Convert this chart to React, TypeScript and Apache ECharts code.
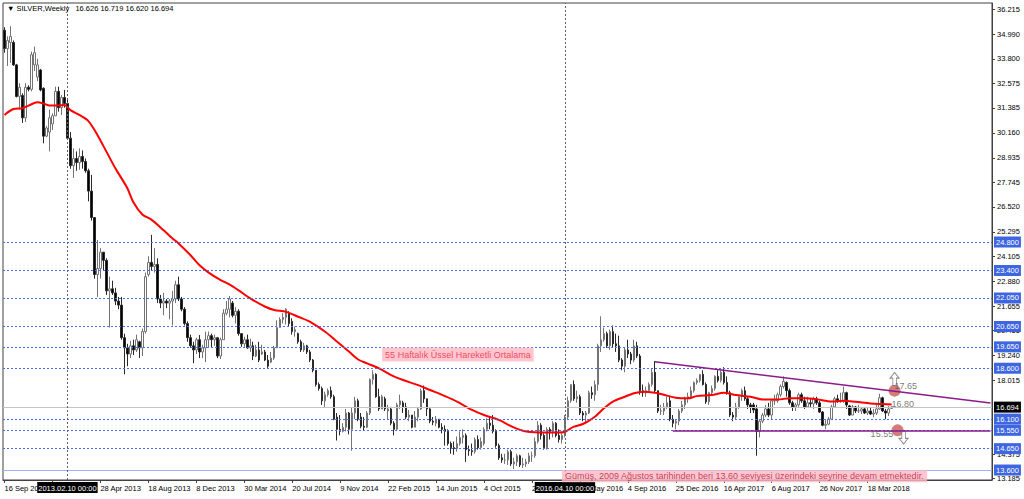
import React, { useEffect, useRef } from 'react';
import * as echarts from 'echarts';

// Weekly candles [open, close, low, high]
const c2012 = [
  [35.2, 34.3, 34.1, 35.35], [34.3, 34.7, 33.45, 34.9], [34.6, 34.9, 33.6, 35.4], [34.6, 33.5, 33.45, 34.7],
  [33.5, 31.95, 31.9, 33.55], [31.95, 32.4, 31.3, 32.6], [32.0, 30.9, 30.65, 32.1], [30.9, 32.4, 30.7, 32.6],
  [32.4, 32.3, 32.2, 32.5], [32.3, 34.0, 32.2, 34.15], [33.5, 34.1, 33.2, 34.4], [32.9, 33.5, 32.7, 33.8],
  [33.25, 32.27, 32.2, 33.3], [32.35, 30.0, 29.65, 32.4], [30.0, 30.4, 29.95, 30.5], [30.2, 30.9, 29.25, 31.3],
];
const c2013 = [
  [30.6, 31.0, 30.3, 31.12], [31.0, 32.2, 31.0, 32.43], [32.2, 31.4, 31.2, 32.43], [31.4, 31.9, 31.04, 32.02],
  [31.9, 31.6, 31.4, 32.27], [31.6, 29.9, 29.81, 31.78], [29.9, 28.55, 28.4, 30.2], [28.55, 28.9, 27.95, 29.4],
  [28.9, 28.7, 28.3, 29.25], [28.7, 29.0, 28.35, 29.4], [29.0, 28.75, 28.4, 29.3], [28.75, 28.3, 28.2, 28.9],
  [28.3, 27.3, 26.8, 28.4], [27.3, 26.0, 25.85, 28.1], [26.0, 23.2, 23.0, 26.0], [23.2, 23.5, 22.1, 24.9],
  [23.5, 24.3, 23.0, 24.5], [24.3, 23.9, 23.4, 24.3], [23.9, 22.4, 22.2, 24.0], [22.4, 22.5, 20.6, 23.1],
  [22.5, 22.3, 22.2, 22.9], [22.3, 21.9, 21.7, 22.55], [21.9, 21.7, 21.5, 22.1], [21.7, 20.1, 20.0, 22.1],
  [20.1, 19.6, 18.3, 20.3], [19.6, 19.3, 18.7, 19.8], [19.3, 19.7, 19.1, 19.95], [19.7, 19.5, 19.25, 20.0],
  [19.5, 20.0, 19.4, 20.25], [19.9, 19.6, 19.1, 19.95], [19.6, 20.4, 19.2, 20.55], [20.4, 23.1, 20.3, 23.3],
  [23.2, 23.8, 23.1, 24.1], [23.8, 23.6, 23.4, 25.15], [23.6, 23.7, 23.3, 24.5], [23.7, 22.0, 21.8, 24.0],
  [22.0, 21.8, 21.55, 22.2], [21.8, 21.9, 21.2, 22.3], [21.9, 21.8, 21.55, 22.0], [21.8, 21.9, 21.0, 22.0],
  [21.9, 22.0, 20.7, 22.4], [22.0, 22.7, 21.8, 22.9], [22.7, 22.0, 21.9, 23.1], [22.0, 21.5, 21.4, 22.1],
  [21.5, 20.8, 20.7, 21.6], [20.8, 20.1, 19.9, 20.9], [20.1, 19.7, 19.6, 20.25], [19.7, 19.5, 18.85, 19.9],
  [19.5, 20.0, 19.3, 20.1], [20.0, 19.4, 19.1, 20.23], [19.4, 19.6, 19.1, 19.75], [19.6, 20.0, 18.9, 20.4],
];
const c2014 = [
  [20.0, 20.2, 19.6, 20.4], [20.2, 20.0, 19.6, 20.3], [20.0, 20.1, 19.7, 20.25], [20.1, 19.2, 19.1, 20.05],
  [19.2, 20.0, 19.05, 20.1], [20.0, 21.3, 20.0, 21.5], [21.3, 21.5, 21.2, 21.9], [21.5, 22.0, 21.1, 22.15],
  [21.8, 21.2, 21.1, 21.9], [21.2, 21.4, 20.8, 21.6], [21.4, 20.3, 20.2, 21.5], [20.3, 19.8, 19.65, 20.3],
  [19.8, 20.0, 19.65, 20.15], [20.0, 19.6, 19.55, 20.25], [19.6, 19.7, 19.4, 20.05], [19.7, 19.2, 19.0, 19.9],
  [19.2, 19.5, 19.15, 19.75], [19.5, 19.0, 18.9, 19.9], [19.3, 19.4, 19.25, 19.75], [19.4, 19.0, 18.95, 19.5],
  [19.0, 18.7, 18.6, 19.25], [18.9, 19.1, 18.85, 19.4], [19.1, 19.6, 19.0, 19.7], [19.6, 20.6, 19.6, 20.95],
  [20.6, 21.0, 20.6, 21.1], [21.0, 21.1, 20.8, 21.3], [21.1, 21.5, 20.75, 21.55], [21.3, 20.8, 20.65, 21.4],
  [20.9, 20.4, 20.25, 21.05], [20.4, 20.5, 20.15, 20.65], [20.3, 19.9, 19.8, 20.35], [19.9, 19.5, 19.4, 20.0],
  [19.5, 19.7, 19.4, 19.85], [19.7, 19.4, 19.3, 19.75], [19.4, 19.0, 18.9, 19.5], [19.0, 18.5, 18.4, 19.05],
  [18.5, 17.8, 17.7, 18.5], [17.8, 17.6, 17.5, 17.9], [17.6, 17.0, 16.8, 17.7], [17.0, 17.3, 16.65, 17.45],
  [17.3, 17.5, 17.2, 17.6], [17.5, 17.2, 17.1, 17.7], [17.2, 16.1, 16.05, 17.3], [16.2, 15.6, 15.05, 16.4],
  [15.6, 15.5, 15.3, 16.3], [15.5, 15.7, 15.45, 15.9], [15.7, 16.4, 15.5, 16.6], [16.4, 15.6, 15.35, 16.45],
  [15.6, 16.4, 14.55, 16.7], [16.4, 17.0, 16.1, 17.2], [17.0, 16.1, 16.0, 17.1], [16.2, 15.75, 15.65, 16.4],
  [15.75, 15.7, 15.55, 16.2],
];
const c2015 = [
  [15.7, 16.4, 15.65, 16.5], [16.4, 18.05, 16.3, 18.1], [18.05, 18.3, 17.8, 18.5], [18.3, 17.2, 17.15, 18.35],
  [17.2, 16.6, 16.5, 17.6], [16.6, 17.2, 16.6, 17.3], [17.1, 16.6, 16.5, 17.2], [16.5, 16.6, 16.1, 16.8],
  [16.6, 15.9, 15.8, 16.7], [15.9, 15.6, 15.3, 16.0], [15.6, 16.8, 15.55, 16.9], [16.8, 17.0, 16.6, 17.3],
  [16.9, 16.7, 16.4, 17.0], [16.7, 16.2, 16.1, 16.9], [16.2, 16.3, 16.0, 16.55], [16.3, 15.7, 15.65, 16.3],
  [15.7, 16.2, 15.7, 16.5], [16.2, 16.6, 16.0, 16.7], [16.6, 17.5, 16.55, 17.6], [17.5, 17.1, 16.9, 17.75],
  [17.1, 16.6, 16.25, 17.1], [16.6, 16.0, 15.9, 16.7], [16.0, 15.95, 15.8, 16.2], [15.9, 16.1, 15.75, 16.25],
  [16.1, 15.7, 15.65, 16.1], [15.7, 15.6, 15.4, 15.9], [15.6, 15.5, 14.8, 15.8], [15.5, 14.9, 14.8, 15.6],
  [14.9, 14.7, 14.4, 15.0], [14.7, 14.65, 14.35, 15.0], [14.65, 14.9, 14.5, 15.25], [14.9, 15.2, 14.8, 15.5],
  [15.2, 15.3, 14.9, 15.6], [15.3, 14.6, 14.0, 15.4], [14.6, 14.55, 14.3, 14.8], [14.55, 14.5, 14.3, 14.9],
  [14.5, 15.1, 14.4, 15.2], [15.1, 14.7, 14.6, 15.3], [14.7, 15.0, 14.6, 15.2], [14.9, 15.6, 14.8, 15.7],
  [15.6, 15.9, 15.5, 16.15], [15.9, 15.8, 15.6, 16.2], [15.8, 15.5, 15.4, 16.3], [15.5, 14.8, 14.7, 15.6],
  [14.8, 14.2, 14.1, 14.9], [14.2, 14.1, 13.95, 14.4], [14.1, 14.1, 13.9, 14.4], [14.1, 14.5, 13.85, 14.6],
  [14.5, 13.9, 13.8, 14.6], [13.9, 14.0, 13.65, 14.2], [14.0, 14.3, 13.8, 14.4], [14.3, 13.85, 13.75, 14.35],
];
const c2016 = [
  [13.85, 13.9, 13.7, 14.2], [13.9, 14.0, 13.75, 14.15], [14.0, 14.3, 13.9, 14.45], [14.3, 14.3, 14.0, 14.5],
  [14.3, 15.0, 14.2, 15.2], [15.0, 15.8, 14.9, 16.0], [15.8, 15.3, 15.1, 15.9], [15.3, 14.7, 14.6, 15.4],
  [14.7, 15.6, 14.6, 15.7], [15.6, 15.5, 15.1, 15.7], [15.5, 15.9, 15.2, 16.0], [15.9, 15.3, 15.2, 15.95],
  [15.3, 15.1, 14.95, 15.6], [15.1, 15.3, 14.9, 15.4], [15.3, 16.2, 15.2, 16.3], [16.2, 17.0, 16.1, 17.2],
  [17.0, 17.8, 16.9, 17.8], [17.8, 17.1, 17.0, 18.0], [17.1, 17.2, 16.9, 17.5], [17.2, 16.4, 16.3, 17.3],
  [16.4, 16.3, 16.0, 16.5], [16.3, 16.4, 15.85, 16.5], [16.4, 17.4, 16.35, 17.5], [17.4, 17.3, 17.1, 17.7],
  [17.3, 17.8, 17.0, 18.0], [17.8, 19.7, 17.5, 19.8], [19.7, 20.0, 19.4, 21.15], [20.0, 20.3, 19.9, 20.6],
  [20.3, 19.7, 19.6, 20.4], [19.7, 20.4, 19.5, 20.5], [20.4, 19.8, 19.6, 20.7], [19.8, 19.7, 19.4, 20.3],
  [19.7, 19.0, 18.9, 20.2], [19.0, 18.7, 18.5, 19.1], [18.7, 19.5, 18.4, 19.6], [19.5, 19.3, 19.1, 20.0],
  [19.3, 19.0, 18.8, 19.4], [19.0, 19.7, 18.9, 20.0], [19.7, 19.2, 19.1, 19.9], [19.2, 17.5, 17.3, 19.3],
  [17.5, 17.4, 17.2, 17.8], [17.4, 17.5, 17.2, 17.7], [17.5, 17.8, 17.4, 17.9], [17.8, 18.4, 17.7, 18.6],
  [18.4, 17.5, 17.4, 18.95], [17.5, 16.5, 16.4, 17.5], [16.5, 16.5, 16.3, 16.8], [16.5, 16.7, 16.3, 16.9],
  [16.7, 16.9, 16.6, 17.2], [17.0, 16.1, 16.0, 17.2], [16.1, 15.9, 15.7, 16.3], [15.9, 16.0, 15.6, 16.1],
];
const c2017 = [
  [16.0, 16.5, 15.8, 16.6], [16.5, 16.8, 16.4, 17.0], [16.8, 17.1, 16.6, 17.2], [17.1, 17.2, 16.9, 17.4],
  [17.2, 17.5, 17.1, 17.7], [17.5, 17.9, 17.4, 17.95], [17.9, 18.0, 17.8, 18.1], [18.0, 18.3, 17.9, 18.3],
  [18.3, 17.8, 17.75, 18.5], [17.8, 16.95, 16.85, 17.9], [16.95, 17.4, 16.8, 17.45], [17.4, 17.6, 17.3, 17.75],
  [17.6, 18.2, 17.5, 18.25], [18.2, 18.0, 17.9, 18.5], [18.0, 18.4, 17.9, 18.5], [18.4, 17.9, 17.8, 18.65],
  [17.9, 17.4, 17.3, 18.2], [17.4, 16.3, 16.2, 17.5], [16.3, 16.2, 16.0, 16.45], [16.2, 16.7, 16.1, 16.9],
  [16.7, 17.2, 16.6, 17.3], [17.2, 17.5, 17.0, 17.6], [17.5, 17.1, 17.0, 17.7], [17.1, 16.8, 16.6, 17.2],
  [16.8, 16.7, 16.4, 16.9], [16.8, 16.55, 16.4, 16.9], [16.6, 15.5, 14.3, 16.8], [15.5, 16.0, 15.2, 16.1],
  [16.0, 16.3, 15.9, 16.4], [16.3, 16.6, 16.2, 16.8], [16.6, 16.3, 16.2, 16.9], [16.3, 17.0, 16.1, 17.1],
  [17.0, 17.0, 16.8, 17.3], [17.0, 17.3, 16.9, 17.4], [17.3, 17.7, 17.2, 17.8], [17.7, 17.95, 17.6, 18.2],
  [17.9, 17.5, 17.2, 17.95], [17.5, 16.9, 16.8, 17.6], [16.9, 16.7, 16.5, 17.0], [16.7, 16.8, 16.5, 16.9],
  [16.8, 17.3, 16.7, 17.4], [17.3, 17.0, 16.9, 17.4], [17.0, 16.7, 16.6, 17.2], [16.7, 16.9, 16.7, 17.2],
  [16.9, 16.85, 16.7, 17.1], [16.85, 17.1, 16.6, 17.2], [17.1, 16.9, 16.8, 17.2], [16.9, 16.45, 16.4, 17.0],
  [16.45, 15.8, 15.75, 16.5], [15.8, 15.85, 15.6, 16.1], [15.85, 16.1, 15.8, 16.2], [16.1, 16.7, 16.1, 16.8],
];
const c2018 = [
  [16.7, 17.1, 16.7, 17.2], [17.1, 17.0, 16.9, 17.3], [17.0, 17.0, 16.9, 17.4], [17.0, 17.4, 16.9, 17.7],
  [17.4, 16.8, 16.6, 17.45], [16.75, 16.3, 16.25, 16.8], [16.3, 16.7, 16.3, 16.8], [16.7, 16.5, 16.4, 16.75],
  [16.5, 16.5, 16.4, 16.8], [16.5, 16.6, 16.35, 16.7], [16.6, 16.4, 16.35, 16.7], [16.4, 16.5, 16.3, 16.7],
  [16.5, 16.35, 16.3, 16.7], [16.35, 16.4, 16.2, 16.6], [16.4, 16.6, 16.3, 16.8], [16.6, 17.15, 16.55, 17.35],
  [17.15, 16.5, 16.45, 17.2], [16.5, 16.4, 16.1, 16.6], [16.4, 16.6, 16.25, 16.75], [16.626, 16.694, 16.62, 16.719],
];

// 55-week EMA as [bar index, value]
const emaPoints = [
  [0, 31.04], [3, 31.33], [6, 31.37], [8, 31.5], [11, 31.66], [13, 31.6], [15, 31.5], [18, 31.5], [20, 31.53],
  [22, 31.28], [25, 31.04], [28, 30.74], [31, 30.06], [34, 29.24], [37, 28.42], [41, 27.44], [43, 26.75],
  [46, 26.15], [49, 25.9], [53, 25.39], [56, 24.98], [58, 24.74], [62, 24.16], [65, 23.67], [68, 23.31],
  [72, 22.94], [75, 22.72], [78, 22.44], [82, 22.03], [87, 21.62], [90, 21.46], [94, 21.37], [98, 21.13],
  [102, 20.88], [107, 20.39], [111, 19.9], [115, 19.41], [118, 19.03], [121, 18.84], [125, 18.59],
  [129, 18.26], [133, 18.02], [138, 17.77], [142, 17.53], [147, 17.23], [151, 16.96], [156, 16.55],
  [160, 16.3], [165, 16.06], [169, 15.76], [173, 15.53], [177, 15.45], [180, 15.44], [185, 15.44],
  [187, 15.48], [190, 15.73], [193, 15.86], [197, 16.22], [200, 16.63], [203, 16.96], [207, 17.2],
  [210, 17.37], [213, 17.45], [217, 17.4], [220, 17.3], [224, 17.15], [228, 17.12], [231, 17.23],
  [236, 17.28], [240, 17.4], [244, 17.28], [249, 17.2], [253, 17.07], [258, 17.07], [262, 17.12],
  [267, 17.12], [271, 17.07], [276, 16.96], [280, 17.0], [284, 16.95], [289, 16.87], [293, 16.84], [296, 16.82],
];

const dashedLevels = [24.8, 23.4, 22.05, 20.65, 19.65, 18.6, 16.1, 15.55, 14.65];
const floorLevel = 13.6;
const lastPrice = 16.694;
const headerValues = [16.626, 16.719, 16.62, 16.694];
const yTicks = [36.215, 34.99, 33.8, 32.575, 31.385, 30.16, 28.935, 27.745, 26.52, 25.295, 24.105, 22.88,
  21.655, 20.465, 19.24, 18.015, 14.375, 13.185];
const trendHigh = [[217, 18.92], [329, 16.89]];
const trendLow = [[223, 15.55], [329, 15.55]];
const crossIdx = [21, 187];
const circlePoints = [[297, 17.5], [298, 15.55]];
const arrowUp = [297, 18.07];
const arrowDown = [300, 15.2];

const notes = [
  { text: '55 Haftalık Üssel Hareketli Ortalama', at: [126, 19.27], kind: 'pinkTop' },
  { text: 'Gümüş, 2009 Ağustos tarihinden beri 13.60 seviyesi üzerindeki seyrine devam etmektedir.', at: [186, 13.29], kind: 'pinkBottom' },
  { text: '17.65', at: [297, 17.73], kind: 'gray' },
  { text: '16.80', at: [296, 16.84], kind: 'gray' },
  { text: '15.55', at: [289, 15.35], kind: 'gray' },
];

const FONT = "'Liberation Sans', Arial, sans-serif";
const MONTHS = ['Jan', 'Feb', 'Mar', 'Apr', 'May', 'Jun', 'Jul', 'Aug', 'Sep', 'Oct', 'Nov', 'Dec'];
const SLOTS = 330;
const EXTRA_BAR = 113; // the broker feed carries one extra weekly bar in Nov 2014

export default function App() {
  const ref = useRef<HTMLDivElement>(null);
  useEffect(() => {
    if (!ref.current) return;
    const chart = echarts.init(ref.current, undefined, { renderer: 'svg' });
    const candles = [...c2012, ...c2013, ...c2014, ...c2015, ...c2016, ...c2017, ...c2018];
    const start = Date.UTC(2012, 8, 16);
    const DAY = 86400000;
    const dates: string[] = [];
    const stamps: string[] = [];
    for (let k = 0; k < SLOTS; k++) {
      const w = k < EXTRA_BAR ? k : k - 1;
      const d = new Date(start + w * 7 * DAY + (k === EXTRA_BAR ? 6 * DAY : 0));
      dates.push(`${d.getUTCDate()} ${MONTHS[d.getUTCMonth()]} ${d.getUTCFullYear()}`);
      const mm = String(d.getUTCMonth() + 1).padStart(2, '0');
      const dd = String(d.getUTCDate()).padStart(2, '0');
      stamps.push(`${d.getUTCFullYear()}.${mm}.${dd} 00:00`);
    }
    const n = candles.length;
    const boxLabel = (bg: string, text: string) => ({
      show: true, position: 'end', distance: 2, formatter: text, backgroundColor: bg, color: '#fff',
      padding: [2, 2, 1, 2], fontSize: 7.5, fontFamily: FONT,
    });
    const purple = { color: '#8b1a8b', width: 1.5, type: 'solid' };
    const noteStyle: Record<string, any> = {
      pinkTop: { backgroundColor: '#ffb8c4', color: '#e8283c', padding: [3, 3, 2, 3], fontSize: 9 },
      pinkBottom: { backgroundColor: '#ffb8c4', color: '#b0203a', padding: [2, 3, 1, 3], fontSize: 9 },
      gray: { color: '#555555', fontSize: 9 },
    };
    const option: any = {
      animation: false,
      backgroundColor: '#ffffff',
      title: {
        text: `▼ SILVER,Weekly   ${headerValues.map((v) => v.toFixed(3)).join(' ')}`,
        left: 3, top: 0, padding: [4, 4],
        textStyle: { fontSize: 7.5, fontWeight: 'normal', color: '#000', fontFamily: FONT },
      },
      grid: { left: 3, right: 32, top: 3, bottom: 19, show: true, borderColor: '#404040', borderWidth: 1 },
      xAxis: {
        type: 'category', data: dates, boundaryGap: true,
        axisLine: { lineStyle: { color: '#404040' } },
        axisTick: { show: true, length: 3, alignWithLabel: true, interval: (i: number) => i % 16 === 0 && i < n, lineStyle: { color: '#404040' } },
        axisLabel: {
          interval: (i: number) => i % 16 === 0 && i < n, align: 'left', margin: 4, fontSize: 7.5,
          color: '#000', fontFamily: FONT,
        },
        splitLine: { show: false },
      },
      yAxis: {
        type: 'value', position: 'right', min: 13.11, max: 36.54,
        axisLine: { show: true, lineStyle: { color: '#404040' } },
        axisTick: { show: true, length: 3, customValues: yTicks, lineStyle: { color: '#404040' } },
        axisLabel: { customValues: yTicks, formatter: (v: number) => v.toFixed(3), margin: 5, fontSize: 7.5, color: '#000', fontFamily: FONT },
        splitLine: { show: false },
      },
      series: [
        {
          name: 'levels', type: 'line', data: [], clip: false, silent: true,
          markLine: {
            symbol: 'none', silent: true, animation: false,
            data: [
              ...dashedLevels.map((v) => ({ yAxis: v, lineStyle: { type: [2, 2], color: '#4a6fe3', width: 1 }, label: boxLabel('#3d66e0', v.toFixed(3)) })),
              { yAxis: floorLevel, lineStyle: { type: 'solid', color: '#9fb2ef', width: 1 }, label: boxLabel('#3d66e0', floorLevel.toFixed(3)) },
              { yAxis: lastPrice, lineStyle: { type: 'solid', color: '#c4c4c4', width: 1 }, label: boxLabel('#000000', lastPrice.toFixed(3)) },
              ...crossIdx.map((i) => ({
                xAxis: dates[i], lineStyle: { type: [2, 2], color: '#606060', width: 1 },
                label: { show: true, position: 'start', distance: 2, formatter: stamps[i], backgroundColor: '#000', color: '#fff', padding: [2, 1, 1, 1], fontSize: 7.5, fontFamily: FONT },
              })),
              [
                { coord: trendHigh[0], lineStyle: purple, label: { show: false } },
                { coord: trendHigh[1], lineStyle: purple, label: { show: false } },
              ],
              [
                { coord: trendLow[0], lineStyle: purple, label: { show: false } },
                { coord: trendLow[1], lineStyle: purple, label: { show: false } },
              ],
            ],
          },
        },
        {
          name: 'SILVER', type: 'candlestick', data: candles, barWidth: 2,
          itemStyle: { color: '#ffffff', color0: '#000000', borderColor: '#747474', borderColor0: '#2a2a2a', borderWidth: 1 },
        },
        {
          name: 'EMA55', type: 'line', data: emaPoints, showSymbol: false, smooth: 0.3,
          lineStyle: { color: '#ff0000', width: 2 }, z: 3,
        },
        {
          name: 'circles', type: 'scatter', data: circlePoints, symbol: 'circle', symbolSize: 12,
          itemStyle: { color: 'rgba(196,72,72,0.9)' }, z: 4,
        },
        {
          name: 'arrows', type: 'scatter', z: 4,
          data: [
            { value: arrowUp, symbol: 'path://M5,0L10,6L7,6L7,14L3,14L3,6L0,6Z' },
            { value: arrowDown, symbol: 'path://M3,0L7,0L7,8L10,8L5,14L0,8L3,8Z' },
          ],
          symbolSize: [9, 13],
          itemStyle: { color: '#ffffff', borderColor: '#707070', borderWidth: 1 },
        },
        {
          name: 'notes', type: 'scatter', symbolSize: 0, z: 5, clip: false,
          data: notes.map((nt) => ({
            value: nt.at,
            label: { show: true, position: 'right', distance: 0, formatter: nt.text, fontFamily: FONT, ...noteStyle[nt.kind] },
          })),
        },
      ],
    };
    chart.setOption(option);
    return () => chart.dispose();
  }, []);
  return <div ref={ref} style={{ position: 'absolute', left: 0, top: 0, width: 1024, height: 499 }} />;
}
